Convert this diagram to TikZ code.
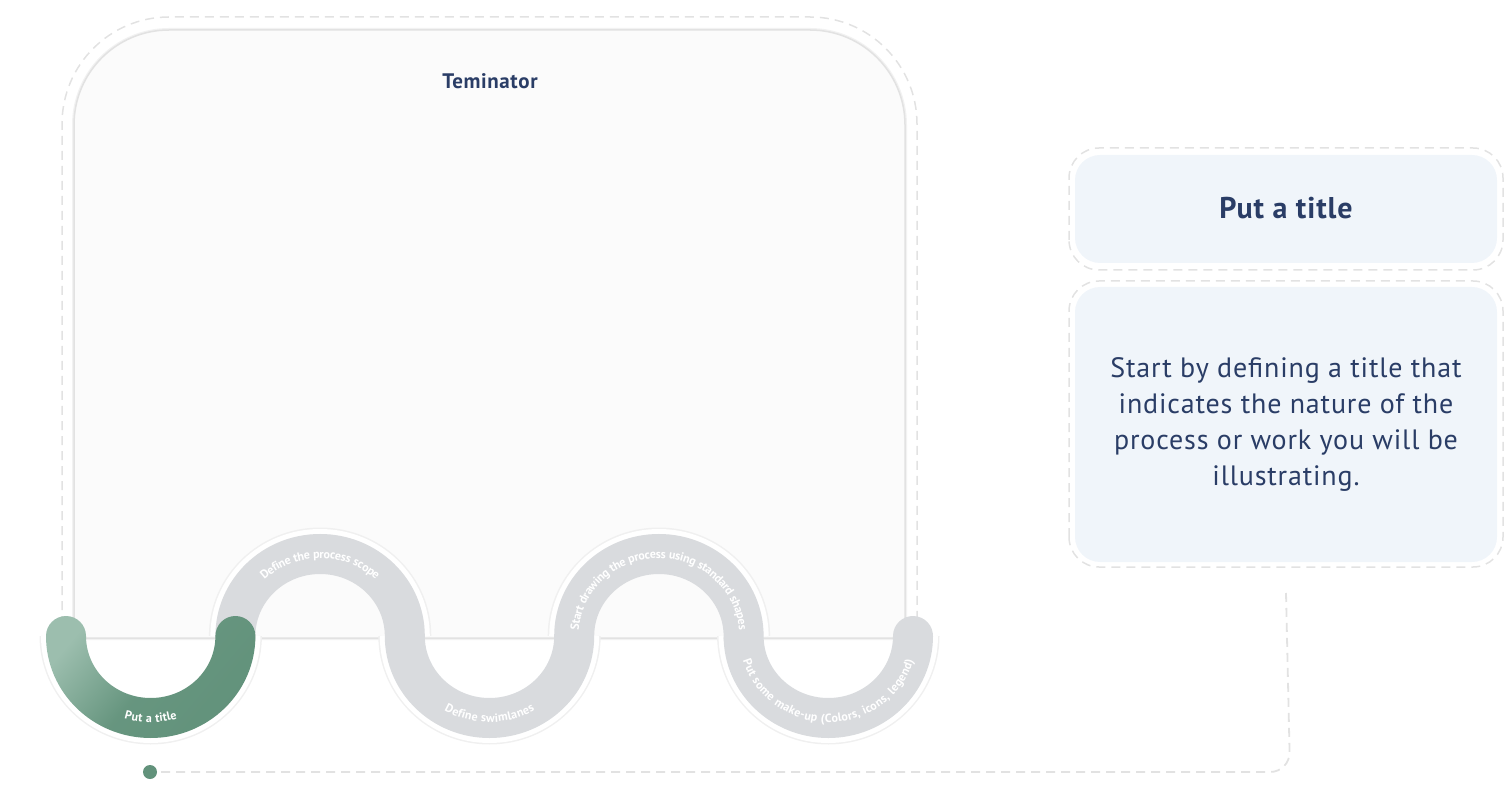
\documentclass[tikz,border=0pt]{standalone}
\usepackage{fontspec}
\setmainfont[LetterSpace=3]{PT Sans}
\usetikzlibrary{decorations.text}
\definecolor{navy}{HTML}{2A3D66}
\definecolor{boxfill}{HTML}{FBFBFB}
\definecolor{boxline}{HTML}{E2E2E2}
\definecolor{boxshadow}{HTML}{F2F2F2}
\definecolor{dashc}{HTML}{E2E2E2}
\definecolor{panelc}{HTML}{F0F5FA}
\definecolor{bandc}{HTML}{D9DBDE}
\definecolor{gl}{HTML}{9CBEAE}
\definecolor{gd}{HTML}{62927B}
\definecolor{shadowc}{HTML}{F0F0F0}
\newcommand\wvf{\fontsize{12}{14}\selectfont\bfseries}
\tikzset{
  dashline/.style={draw=dashc, line width=1.8pt, dash pattern=on 9pt off 6pt},
  dashbox/.style={draw=dashc, line width=1.5pt, dash pattern=on 9pt off 6pt},
  halo/.style={draw=white, line width=5pt},
  haloshadow/.style={draw=shadowc, line width=3pt},
  panel/.style={fill=panelc, rounded corners=25pt, minimum width=422pt, inner sep=0pt, text=navy, align=center},
  wavetext/.style={decorate, decoration={text along path, text align=center, raise=-4.3pt, text color=white, text={|\wvf|#1}}},
}
\begin{document}
\begin{tikzpicture}[x=1pt,y=1pt]
\useasboundingbox (0,0) rectangle (1506,796);
% outer dashed frame of terminator
\draw[dashbox] (62,171) -- (62,672) arc[start angle=180,end angle=90,radius=107pt] -- (810,779) arc[start angle=90,end angle=0,radius=107pt] -- (917,171);
% terminator box
\draw[boxshadow, line width=4pt] (74,158) -- (74,671) arc[start angle=180,end angle=90,radius=95pt] -- (810,766) arc[start angle=90,end angle=0,radius=95pt] -- (905,158) -- cycle;
\draw[fill=boxfill, draw=boxline, line width=1.5pt] (74,158) -- (74,671) arc[start angle=180,end angle=90,radius=95pt] -- (810,766) arc[start angle=90,end angle=0,radius=95pt] -- (905,158) -- cycle;
\node[font=\bfseries\fontsize{21}{25}\selectfont, text=navy] (term) at (490,715) {Teminator};
% halos (outer sides of the wave)
\foreach \c/\s/\e in {150.7/180/360, 320.1/180/0, 489.5/180/360, 658.9/180/0, 828.3/180/360}{
  \draw[haloshadow] ({\c-109.7},160) arc[start angle=\s,end angle=\e,x radius=109.7pt,y radius=107pt];
  \draw[halo] ({\c-107.2},160) arc[start angle=\s,end angle=\e,x radius=107.2pt,y radius=104.5pt];
}
% gray wave band
\draw[bandc, line width=40pt, line cap=round] (235.4,160)
  arc[start angle=180,end angle=0,x radius=84.7pt,y radius=82pt]
  arc[start angle=180,end angle=360,x radius=84.7pt,y radius=82pt]
  arc[start angle=180,end angle=0,x radius=84.7pt,y radius=82pt]
  arc[start angle=180,end angle=360,x radius=84.7pt,y radius=82pt];
% green segment
\shade[top color=gl, bottom color=gd, middle color=gd!92!gl, shading angle=50] (46,160)
  arc[start angle=180,end angle=360,x radius=104.7pt,y radius=102pt]
  arc[start angle=0,end angle=180,radius=20pt]
  arc[start angle=360,end angle=180,x radius=64.7pt,y radius=62pt]
  arc[start angle=0,end angle=180,radius=20pt] -- cycle;
% texts on the wave
\path[wavetext={Put a title}] (66,160) arc[start angle=180,end angle=360,x radius=84.7pt,y radius=82pt];
\path[wavetext={Define the process scope}] (235.4,160) arc[start angle=180,end angle=0,x radius=84.7pt,y radius=82pt];
\path[wavetext={Define swimlanes}] (404.8,160) arc[start angle=180,end angle=360,x radius=84.7pt,y radius=82pt];
\path[wavetext={Start drawing the process using standard shapes}] (574.2,160) arc[start angle=180,end angle=0,x radius=84.7pt,y radius=82pt];
\path[wavetext={Put some make-up (Colors, icons, legend)}] (743.6,160) arc[start angle=180,end angle=360,x radius=84.7pt,y radius=82pt];
% right panels
\draw[dashbox, rounded corners=30pt] (1069,526) rectangle (1503,648);
\node[panel, minimum height=108pt, font=\bfseries\fontsize{30}{36}\selectfont] (title) at (1286,587) {\raisebox{3pt}{Put a title}};
\draw[dashbox, rounded corners=30pt] (1069,229) rectangle (1503,515);
\node[panel, minimum height=275pt, font=\fontsize{28}{36}\selectfont] (desc) at (1286,371.5) {Start by defining a title that\\indicates the nature of the\\process or work you will be\\illustrating.};
% connector
\coordinate (cend) at (1286,203);
\node[circle, fill=gd, minimum size=14pt, inner sep=0pt] (dot) at (150,24) {};
\draw[dashline, rounded corners=20pt] ([xshift=4pt]dot.east) -- ([xshift=4pt]dot.east -| cend) -- (cend);
\end{tikzpicture}
\end{document}
